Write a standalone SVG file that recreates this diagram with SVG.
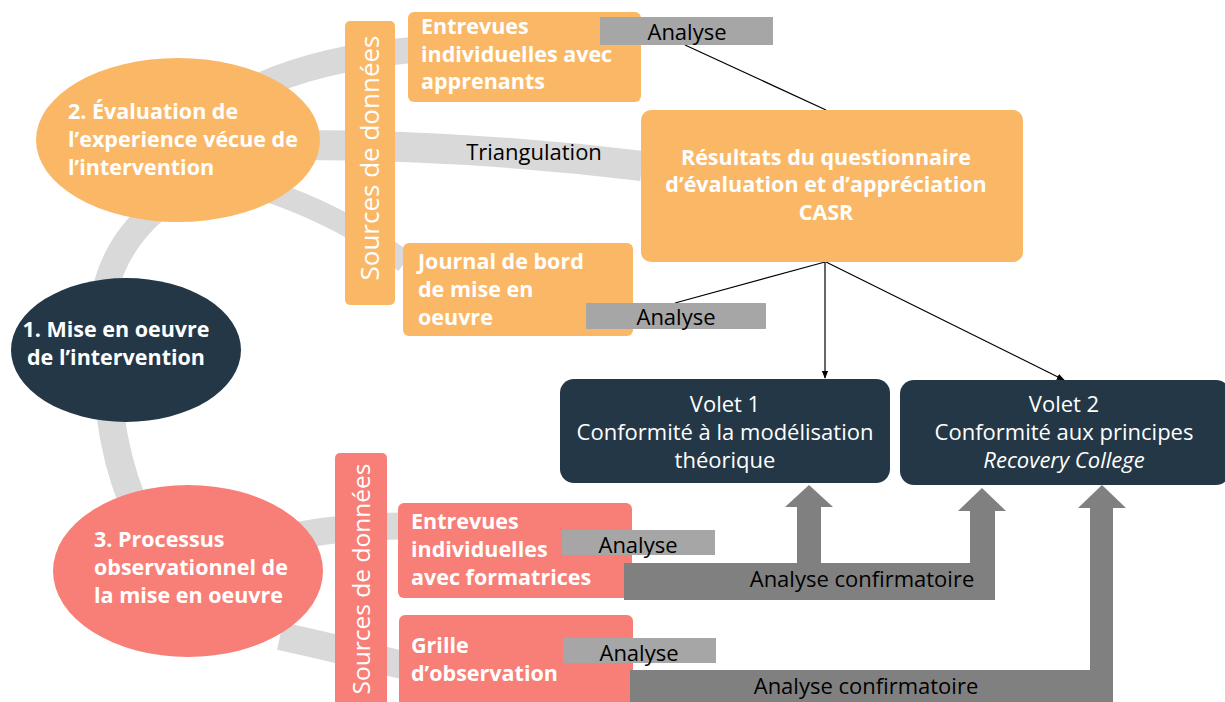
<svg xmlns="http://www.w3.org/2000/svg" width="1225" height="702" viewBox="0 0 1225 702">
  <defs>
    <style>
      .band { fill: none; stroke: #d9d9d9; stroke-linecap: butt; }
      .orange { fill: #fab867; }
      .salmon { fill: #f77f78; }
      .navy { fill: #243746; }
      .lbl { font-family: "Open Sans", "Noto Sans", sans-serif; }
      .bold { font-weight: 700; fill: #ffffff; font-size: 21.5px; }
      .white { fill: #ffffff; font-size: 22px; }
      .black { fill: #000000; font-size: 22px; }
      .side { fill: #ffffff; }
      .ana { fill: #a6a6a6; }
      .conf { fill: #808080; }
      .thin { stroke: #000000; stroke-width: 1.2; fill: none; }
    </style>
    <marker id="tip" viewBox="0 0 10 10" refX="9" refY="5" markerWidth="8" markerHeight="8" orient="auto" markerUnits="userSpaceOnUse">
      <path d="M0,1 L10,5 L0,9 z" fill="#000000"/>
    </marker>
  </defs>

  <rect width="1225" height="702" fill="#ffffff"/>

  <!-- connectors: broad gray bands linking the ellipses and the data sources -->
  <g id="connectors">
    <path class="band" stroke-width="26" d="M255,88 Q320,58 412,50"/>
    <path class="band" stroke-width="30" d="M295,145 Q470,145 642,166"/>
    <path class="band" stroke-width="22" d="M265,190 Q340,215 405,262"/>
    <path class="band" stroke-width="26" d="M155,210 Q115,245 105,292"/>
    <path class="band" stroke-width="28" d="M110,412 Q116,460 132,500"/>
    <path class="band" stroke-width="27" d="M300,535 Q350,526 402,526"/>
    <path class="band" stroke-width="28" d="M280,636 Q335,648 402,665"/>

    <!-- thin analysis lines -->
    <line class="thin" x1="685" y1="45" x2="826" y2="110"/>
    <line class="thin" x1="675" y1="303" x2="825" y2="262"/>
    <line class="thin" x1="825" y1="262" x2="825" y2="378" marker-end="url(#tip)"/>
    <line class="thin" x1="826" y1="262" x2="1064" y2="380" marker-end="url(#tip)"/>
  </g>

  <!-- ellipse 2 -->
  <g id="node-evaluation">
    <ellipse class="orange" cx="178" cy="140" rx="142" ry="82"/>
    <text class="lbl bold" x="68" y="119">2. Évaluation de</text>
    <text class="lbl bold" x="68" y="147">l’experience vécue de</text>
    <text class="lbl bold" x="68" y="175">l’intervention</text>
  </g>

  <!-- ellipse 1 -->
  <g id="node-mise-en-oeuvre">
    <ellipse class="navy" cx="126" cy="350" rx="115" ry="72"/>
    <text class="lbl bold" x="116" y="337" text-anchor="middle">1. Mise en oeuvre</text>
    <text class="lbl bold" x="116" y="365" text-anchor="middle">de l’intervention</text>
  </g>

  <!-- ellipse 3 -->
  <g id="node-processus">
    <ellipse class="salmon" cx="188" cy="571" rx="135" ry="86"/>
    <text class="lbl bold" x="94" y="547">3. Processus</text>
    <text class="lbl bold" x="94" y="575">observationnel de</text>
    <text class="lbl bold" x="94" y="603">la mise en oeuvre</text>
  </g>

  <!-- data sources, orange -->
  <g id="node-sources-orange">
    <rect class="orange" x="345" y="21" width="50" height="284" rx="5"/>
    <text class="lbl side" font-size="26" transform="translate(379,158) rotate(-90)" text-anchor="middle">Sources de données</text>
  </g>

  <g id="node-entrevues-apprenants">
    <rect class="orange" x="408" y="12" width="233" height="90" rx="6"/>
    <text class="lbl bold" x="421" y="34">Entrevues</text>
    <text class="lbl bold" x="421" y="62">individuelles avec</text>
    <text class="lbl bold" x="421" y="89">apprenants</text>
  </g>

  <g id="node-journal">
    <rect class="orange" x="403" y="243" width="230" height="93" rx="6"/>
    <text class="lbl bold" x="418" y="269">Journal de bord</text>
    <text class="lbl bold" x="418" y="297">de mise en</text>
    <text class="lbl bold" x="418" y="325">oeuvre</text>
  </g>

  <g id="node-casr">
    <rect class="orange" x="641" y="110" width="382" height="152" rx="10"/>
    <text class="lbl bold" x="826" y="165" text-anchor="middle">Résultats du questionnaire</text>
    <text class="lbl bold" x="826" y="192" text-anchor="middle">d’évaluation et d’appréciation</text>
    <text class="lbl bold" x="826" y="220" text-anchor="middle">CASR</text>
  </g>

  <g id="label-triangulation">
    <text class="lbl black" x="534" y="160" text-anchor="middle">Triangulation</text>
  </g>

  <g id="node-analyse-1">
    <rect class="ana" x="600" y="17" width="173" height="28"/>
    <text class="lbl black" x="687" y="40" text-anchor="middle">Analyse</text>
  </g>

  <g id="node-analyse-2">
    <rect class="ana" x="586" y="303" width="180" height="26"/>
    <text class="lbl black" x="676" y="325" text-anchor="middle">Analyse</text>
  </g>

  <!-- volets -->
  <g id="node-volet-1">
    <rect class="navy" x="560" y="379" width="330" height="104" rx="14"/>
    <text class="lbl white" x="725" y="412" text-anchor="middle">Volet 1</text>
    <text class="lbl white" x="725" y="440" text-anchor="middle">Conformité à la modélisation</text>
    <text class="lbl white" x="725" y="468" text-anchor="middle">théorique</text>
  </g>

  <g id="node-volet-2">
    <rect class="navy" x="900" y="380" width="330" height="105" rx="14"/>
    <text class="lbl white" x="1064" y="412" text-anchor="middle">Volet 2</text>
    <text class="lbl white" x="1064" y="440" text-anchor="middle">Conformité aux principes</text>
    <text class="lbl white" x="1064" y="468" text-anchor="middle" font-style="italic">Recovery College</text>
  </g>

  <!-- data sources, salmon -->
  <g id="node-sources-salmon">
    <rect class="salmon" x="335" y="453" width="52" height="260" rx="5"/>
    <text class="lbl side" font-size="24.5" transform="translate(370,579) rotate(-90)" text-anchor="middle">Sources de données</text>
  </g>

  <g id="node-entrevues-formatrices">
    <rect class="salmon" x="398" y="503" width="234" height="95" rx="6"/>
    <text class="lbl bold" x="411" y="529">Entrevues</text>
    <text class="lbl bold" x="411" y="557">individuelles</text>
    <text class="lbl bold" x="411" y="585">avec formatrices</text>
  </g>

  <g id="node-grille">
    <rect class="salmon" x="399" y="615" width="234" height="100" rx="6"/>
    <text class="lbl bold" x="411" y="653">Grille</text>
    <text class="lbl bold" x="411" y="681">d’observation</text>
  </g>

  <g id="node-analyse-3">
    <rect class="ana" x="562" y="530" width="153" height="25"/>
    <text class="lbl black" x="638" y="553" text-anchor="middle">Analyse</text>
  </g>

  <g id="node-analyse-4">
    <rect class="ana" x="563" y="638" width="153" height="25"/>
    <text class="lbl black" x="639" y="661" text-anchor="middle">Analyse</text>
  </g>

  <!-- confirmatory analysis bars with their block arrows -->
  <g id="node-confirmatoire-1">
    <path class="conf" d="M624,563 H797 V507 H785 L809,485 L833,507 H821 V563 H970 V511 H958 L982,488 L1006,511 H995 V600 H624 Z"/>
    <text class="lbl black" x="862" y="587" text-anchor="middle">Analyse confirmatoire</text>
  </g>

  <g id="node-confirmatoire-2">
    <path class="conf" d="M630,670 H1090 V508 H1078 L1102,485 L1126,508 H1113 V702 H630 Z"/>
    <text class="lbl black" x="866" y="694" text-anchor="middle">Analyse confirmatoire</text>
  </g>
</svg>
